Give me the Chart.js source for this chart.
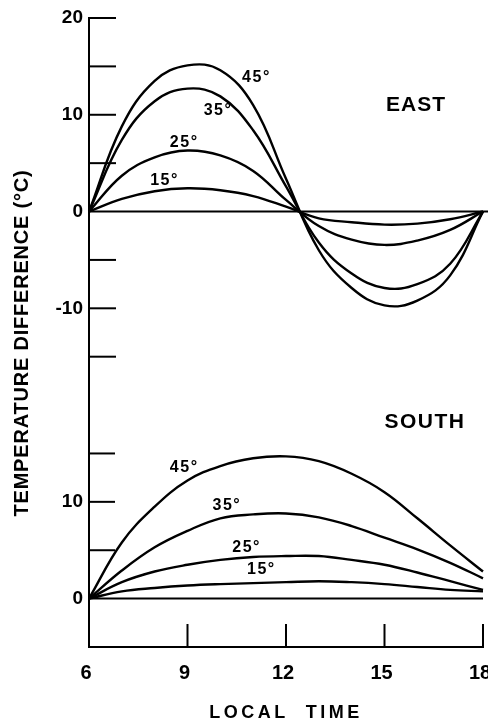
<!DOCTYPE html>
<html><head><meta charset="utf-8">
<script src="https://cdn.jsdelivr.net/npm/chart.js@4.4.1/dist/chart.umd.min.js"></script>
<style>html,body{margin:0;padding:0;background:#fff}canvas{display:block}</style>
</head><body>
<canvas id="c" width="488" height="722"></canvas>
<script>
// ---- data ----
const angleNames = ['45°', '35°', '25°', '15°'];

const eastTimes = [6, 7, 8, 9, 10, 11, 12, 13, 14, 15, 16, 17, 18];
const east45 = [0, 8.8, 13.5, 15.1, 14.6, 11.0, 3.4, -4.0, -7.9, -9.7, -9.2, -6.6, 0];
const east35 = [0, 7.4, 11.4, 12.7, 11.9, 8.4, 2.6, -3.2, -6.4, -7.9, -7.5, -5.4, 0];
const east25 = [0, 3.7, 5.6, 6.3, 5.8, 4.2, 1.2, -1.5, -2.9, -3.45, -3.0, -1.9, 0];
const east15 = [0, 1.3, 2.1, 2.4, 2.2, 1.6, 0.5, -0.7, -1.1, -1.35, -1.25, -0.8, 0];

const southTimes = [6, 7, 8, 9, 10, 11, 12, 13, 14, 15, 16, 17, 18];
const south45 = [0, 5.8, 9.5, 12.2, 13.7, 14.5, 14.7, 14.2, 12.9, 11.0, 8.3, 5.5, 2.8];
const south35 = [0, 2.9, 5.3, 7.0, 8.3, 8.7, 8.8, 8.4, 7.5, 6.3, 5.1, 3.7, 2.1];
const south25 = [0, 1.7, 2.8, 3.5, 4.0, 4.3, 4.4, 4.4, 4.0, 3.5, 2.7, 1.8, 0.9];
const south15 = [0, 0.75, 1.1, 1.35, 1.5, 1.6, 1.7, 1.8, 1.7, 1.5, 1.2, 0.9, 0.75];

// tick values
const xTicks = [6, 9, 12, 15, 18];
const eastTickLabels = [20, 10, 0, -10];
const eastTickMarks = [20, 15, 10, 5, -5, -10, -15];
const southTickLabels = [10, 0];
const southTickMarks = [15, 10, 5];

// curve labels (anchors in data units)
const eastLabelTimes = [11.1, 9.93, 8.9, 8.3];
const eastLabelValues = [13.8, 10.4, 7.1, 3.2];
const southLabelTimes = [8.9, 10.2, 10.8, 11.25];
const southLabelValues = [13.5, 9.6, 5.3, 3.0];

const FONT = "'Liberation Sans', Arial, sans-serif";

function pts(times, vals) { return times.map((t, i) => ({x: t, y: vals[i]})); }
const lineStyle = {borderColor: '#000', backgroundColor: '#000', borderWidth: 2.4, pointRadius: 0,
  fill: false, tension: 0.4, clip: false};

const eastSeries = [east45, east35, east25, east15];
const southSeries = [south45, south35, south25, south15];
const datasets = [
  ...eastSeries.map((v, i) => Object.assign({label: 'East ' + angleNames[i], data: pts(eastTimes, v), yAxisID: 'yEast'}, lineStyle)),
  ...southSeries.map((v, i) => Object.assign({label: 'South ' + angleNames[i], data: pts(southTimes, v), yAxisID: 'ySouth'}, lineStyle))
];

const decor = {
  id: 'decor',
  beforeDatasetsDraw(chart) {
    const {ctx, chartArea: a, scales: s} = chart;
    ctx.save();
    ctx.strokeStyle = '#000'; ctx.lineWidth = 2;
    const seg = (x1, y1, x2, y2) => { ctx.beginPath(); ctx.moveTo(x1, y1); ctx.lineTo(x2, y2); ctx.stroke(); };
    let y0 = s.yEast.getPixelForValue(0);
    seg(a.left, y0, chart.width, y0);
    y0 = s.ySouth.getPixelForValue(0);
    seg(a.left, y0, a.right, y0);
    eastTickMarks.forEach(v => { const y = s.yEast.getPixelForValue(v); seg(a.left, y, a.left + 27, y); });
    southTickMarks.forEach(v => { const y = s.ySouth.getPixelForValue(v); seg(a.left, y, a.left + 26, y); });
    xTicks.slice(1).forEach(t => { const x = s.x.getPixelForValue(t); seg(x, a.bottom, x, a.bottom - 23); });
    ctx.restore();
  },
  afterDatasetsDraw(chart) {
    const {ctx, chartArea: a, scales: s} = chart;
    ctx.save();
    ctx.fillStyle = '#000';
    ctx.textAlign = 'center';
    ctx.textBaseline = 'middle';
    ctx.font = 'bold 16px ' + FONT;
    ctx.letterSpacing = '1.5px';
    angleNames.forEach((n, i) => {
      ctx.fillText(n, s.x.getPixelForValue(eastLabelTimes[i]), s.yEast.getPixelForValue(eastLabelValues[i]));
      ctx.fillText(n, s.x.getPixelForValue(southLabelTimes[i]), s.ySouth.getPixelForValue(southLabelValues[i]));
    });
    ctx.font = 'bold 21px ' + FONT;
    ctx.letterSpacing = '1px';
    ctx.fillText('EAST', s.x.getPixelForValue(15.96), s.yEast.getPixelForValue(10.95));
    ctx.letterSpacing = '1.5px';
    ctx.fillText('SOUTH', s.x.getPixelForValue(16.23), s.ySouth.getPixelForValue(18.2));
    // axis titles
    ctx.font = 'bold 18px ' + FONT;
    ctx.letterSpacing = '3.5px';
    ctx.fillText('LOCAL  TIME', (a.left + a.right) / 2, 713);
    ctx.save();
    ctx.translate(22, 343);
    ctx.rotate(-Math.PI / 2);
    ctx.font = 'bold 20px ' + FONT;
    ctx.letterSpacing = '0.8px';
    ctx.fillText('TEMPERATURE DIFFERENCE (°C)', 0, 0);
    ctx.restore();
    ctx.restore();
  }
};

const tickFont = {family: FONT, size: 19, weight: 'bold'};
function yFit(scale) { scale.width = 89; scale.paddingTop = 0; scale.paddingBottom = 0; }

new Chart(document.getElementById('c'), {
  type: 'line',
  data: {datasets},
  plugins: [decor],
  options: {
    responsive: false,
    animation: false,
    devicePixelRatio: 1,
    layout: {padding: {top: 18, right: 5, left: 0, bottom: 0}},
    plugins: {legend: {display: false}, tooltip: {enabled: false}},
    scales: {
      x: {
        type: 'linear', min: 6, max: 18,
        afterBuildTicks: sc => { sc.ticks = xTicks.map(v => ({value: v})); },
        afterFit: sc => { sc.height = 75; sc.paddingLeft = 0; sc.paddingRight = 0; },
        grid: {display: false, drawTicks: false},
        border: {display: true, color: '#000', width: 2},
        ticks: {color: '#000', font: {family: FONT, size: 20, weight: 'bold'}, padding: 14, labelOffset: -3, maxRotation: 0, autoSkip: false}
      },
      ySouth: {
        type: 'linear', position: 'left', stack: 'panels', stackWeight: 25,
        min: -5, max: 20,
        afterBuildTicks: sc => { sc.ticks = southTickLabels.map(v => ({value: v})); },
        afterFit: yFit,
        grid: {display: false, drawTicks: false},
        border: {display: true, color: '#000', width: 2},
        ticks: {color: '#000', font: tickFont, padding: 6, autoSkip: false}
      },
      yEast: {
        type: 'linear', position: 'left', stack: 'panels', stackWeight: 40,
        min: -20, max: 20,
        afterBuildTicks: sc => { sc.ticks = eastTickLabels.map(v => ({value: v})); },
        afterFit: yFit,
        grid: {display: false, drawTicks: false},
        border: {display: true, color: '#000', width: 2},
        ticks: {color: '#000', font: tickFont, padding: 6, autoSkip: false}
      }
    }
  }
});
</script>
</body></html>
